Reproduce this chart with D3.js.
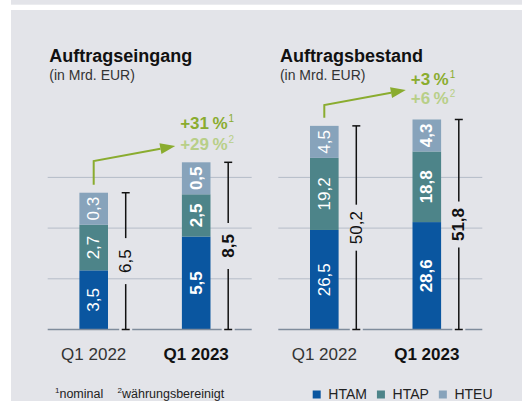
<!DOCTYPE html>
<html>
<head>
<meta charset="utf-8">
<script src="https://cdn.jsdelivr.net/npm/d3@7"></script>
<style>
  html, body { margin: 0; padding: 0; background: #fff; }
  svg { display: block; font-family: "Liberation Sans", Arial, sans-serif; }
</style>
</head>
<body>
<div id="chart"></div>
<script>
// chart data
const categories = ["Q1 2022", "Q1 2023"];
const series = ["HTAM", "HTAP", "HTEU"];
const colors = ["#0a56a0", "#4d8489", "#87a3bb"];

const eingangHTAM = [3.5, 5.5];
const eingangHTAP = [2.7, 2.5];
const eingangHTEU = [0.3, 0.5];
const eingangTotal = [6.5, 8.5];
const eingangChange = ["+31\u2009%", "+29\u2009%"]; // nominal, währungsbereinigt

const bestandHTAM = [26.5, 28.6];
const bestandHTAP = [19.2, 18.8];
const bestandHTEU = [4.5, 4.3];
const bestandTotal = [50.2, 51.8];
const bestandChange = ["+3\u2009%", "+6\u2009%"];

const panels = [
  { title: "Auftragseingang", values: [eingangHTAM, eingangHTAP, eingangHTEU], total: eingangTotal,
    change: eingangChange, max: 10, grid: [3, 6, 9] },
  { title: "Auftragsbestand", values: [bestandHTAM, bestandHTAP, bestandHTEU], total: bestandTotal,
    change: bestandChange, max: 45, grid: [13.5, 27, 40.5] }
];

// layout
const width = 522, height = 401;
const panelX = [47.7, 278.3];
const panelW = 204;
const baseY = 329.5, plotTop = 160.5;
const barW = 28.6;
const minSeg = 32;        // smallest segment drawn (room for the label)
const annot = [ { tipY: 146, lines: [129, 150] }, { tipY: 90, lines: [85, 103.5] } ];
const green = ["#8aac2f", "#b8cf88"];

const de = d3.formatLocale({ decimal: ",", thousands: ".", grouping: [3], currency: ["", " €"] });
const fmt = de.format(".1f");

const svg = d3.select("#chart").append("svg")
    .attr("width", width)
    .attr("height", height);

svg.append("rect").attr("x", 11).attr("y", 0).attr("width", width - 11).attr("height", 4.7).attr("fill", "#e3e4e9");
svg.append("rect").attr("x", 11).attr("y", 10).attr("width", width - 11).attr("height", height - 10).attr("fill", "#e3e4e9");

panels.forEach((p, pi) => {
  const x0 = panelX[pi];
  const g = svg.append("g");
  const x = d3.scalePoint().domain(categories).range([x0 + 46, x0 + 148.5]);
  const y = d3.scaleLinear().domain([0, p.max]).range([baseY, plotTop]);

  g.append("text")
      .attr("x", x0 + 1.6).attr("y", 61.7)
      .attr("font-size", 18).attr("font-weight", "bold").attr("fill", "#111")
      .text(p.title);
  g.append("text")
      .attr("x", x0 + 1.6).attr("y", 80)
      .attr("font-size", 14).attr("fill", "#333")
      .text("(in Mrd. EUR)");

  // grid
  g.selectAll("line.grid").data(p.grid).join("line")
      .attr("class", "grid")
      .attr("x1", x0).attr("x2", x0 + panelW)
      .attr("y1", d => y(d)).attr("y2", d => y(d))
      .attr("stroke", "#b5bcc8").attr("stroke-width", 1);

  // bars
  const tops = [];
  categories.forEach((c, i) => {
    let yTop = y(0);
    const bold = i === categories.length - 1;
    series.forEach((s, si) => {
      const v = p.values[si][i];
      const h = Math.max(y(0) - y(v), minSeg);
      g.append("rect")
          .attr("x", x(c) - barW / 2).attr("y", yTop - h)
          .attr("width", barW).attr("height", h)
          .attr("fill", colors[si]);
      g.append("text")
          .attr("transform", `translate(${x(c)},${yTop - h / 2}) rotate(-90)`)
          .attr("text-anchor", "middle").attr("dominant-baseline", "central")
          .attr("font-size", 17).attr("font-weight", bold ? "bold" : "normal")
          .attr("fill", "#fff")
          .text(fmt(v));
      yTop -= h;
    });
    tops.push(yTop);

    // dimension line with total
    const dx = x(c) + 32;
    const mid = (yTop + y(0)) / 2;
    const dim = g.append("g").attr("stroke", "#111").attr("stroke-width", 1.5);
    dim.append("line").attr("x1", dx).attr("x2", dx).attr("y1", yTop).attr("y2", mid - 23);
    dim.append("line").attr("x1", dx).attr("x2", dx).attr("y1", mid + 23).attr("y2", y(0));
    dim.append("line").attr("x1", dx - 4).attr("x2", dx + 4).attr("y1", yTop).attr("y2", yTop);
    g.append("text")
        .attr("transform", `translate(${dx},${mid}) rotate(-90)`)
        .attr("text-anchor", "middle").attr("dominant-baseline", "central")
        .attr("font-size", 17).attr("font-weight", bold ? "bold" : "normal")
        .attr("fill", "#111")
        .text(fmt(p.total[i]));

    g.append("text")
        .attr("x", x(c)).attr("y", 360)
        .attr("text-anchor", "middle")
        .attr("font-size", 17).attr("font-weight", bold ? "bold" : "normal")
        .attr("fill", bold ? "#111" : "#333")
        .text(c);
  });

  // baseline, broken around the dimension lines
  const breaks = categories.map(c => x(c) + 32);
  const segs = [];
  let sx = x0;
  breaks.forEach(b => { segs.push([sx, b - 6.5]); sx = b + 6.5; });
  segs.push([sx, x0 + panelW]);
  g.selectAll("line.base").data(segs).join("line")
      .attr("class", "base")
      .attr("x1", d => d[0]).attr("x2", d => d[1])
      .attr("y1", y(0)).attr("y2", y(0))
      .attr("stroke", "#7f8c9c").attr("stroke-width", 1.5);
  breaks.forEach(dx => {
    g.append("line").attr("x1", dx - 4).attr("x2", dx + 4).attr("y1", y(0)).attr("y2", y(0))
        .attr("stroke", "#111").attr("stroke-width", 1.5);
  });

  // growth arrow
  const a = annot[pi];
  const sxA = x(categories[0]), syA = tops[0] - 8;
  const tip = [x(categories[1]) - 21, a.tipY];
  const elbow = [sxA, a.tipY + 15];
  const ang = Math.atan2(tip[1] - elbow[1], tip[0] - elbow[0]);
  const hl = 15, hw = 5.5;
  const bx = tip[0] - hl * Math.cos(ang), by = tip[1] - hl * Math.sin(ang);
  g.append("path")
      .attr("d", `M${sxA},${syA}V${elbow[1]}L${bx},${by}`)
      .attr("fill", "none").attr("stroke", green[0]).attr("stroke-width", 2);
  g.append("path")
      .attr("d", `M${tip[0]},${tip[1]}L${bx - hw * Math.sin(ang)},${by + hw * Math.cos(ang)}L${bx + hw * Math.sin(ang)},${by - hw * Math.cos(ang)}Z`)
      .attr("fill", green[0]);

  p.change.forEach((t, k) => {
    const txt = g.append("text")
        .attr("x", tip[0] + 5).attr("y", a.lines[k])
        .attr("font-size", 17).attr("font-weight", "bold")
        .attr("fill", green[k]);
    txt.append("tspan").text(t);
    txt.append("tspan").attr("font-size", 10).attr("font-weight", "normal").attr("dx", 1).attr("dy", -7).text(k === 0 ? "1" : "2");
  });
});

// footnotes
const foot = svg.append("text").attr("x", 55).attr("y", 397.5).attr("font-size", 12.5).attr("fill", "#222");
foot.append("tspan").attr("font-size", 8).attr("dy", -4.5).text("1");
foot.append("tspan").attr("dy", 4.5).text("nominal");
foot.append("tspan").attr("x", 117.5).attr("font-size", 8).attr("dy", -4.5).text("2");
foot.append("tspan").attr("dy", 4.5).text("währungsbereinigt");

// legend
let lx = 312.7;
series.forEach((s, si) => {
  svg.append("rect").attr("x", lx).attr("y", 390.5).attr("width", 8).attr("height", 8).attr("fill", colors[si]);
  const t = svg.append("text").attr("x", lx + 15.6).attr("y", 398.5)
      .attr("font-size", 14).attr("fill", "#222").text(s);
  lx += 15.6 + t.node().getComputedTextLength() + 10;
});
</script>
</body>
</html>
